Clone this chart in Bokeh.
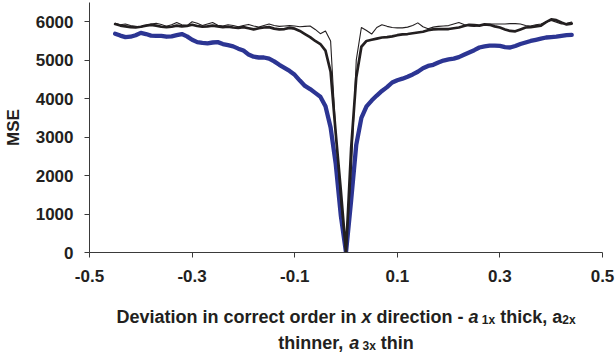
from bokeh.plotting import figure
from bokeh.models import FixedTicker, Range1d
from bokeh.layouts import column
from bokeh.core.properties import value
from bokeh.embed import file_html
from bokeh.resources import INLINE

# ---------------- data ----------------
x_dev = [-0.45, -0.44, -0.43, -0.42, -0.41, -0.40, -0.39, -0.38, -0.37, -0.36,
         -0.35, -0.34, -0.33, -0.32, -0.31, -0.30, -0.29, -0.28, -0.27, -0.26,
         -0.25, -0.24, -0.23, -0.22, -0.21, -0.20, -0.19, -0.18, -0.17, -0.16,
         -0.15, -0.14, -0.13, -0.12, -0.11, -0.10, -0.09, -0.08, -0.07, -0.06,
         -0.05, -0.04, -0.03, -0.02, -0.01, 0.00, 0.01, 0.02, 0.03, 0.04,
         0.05, 0.06, 0.07, 0.08, 0.09, 0.10, 0.11, 0.12, 0.13, 0.14,
         0.15, 0.16, 0.17, 0.18, 0.19, 0.20, 0.21, 0.22, 0.23, 0.24,
         0.25, 0.26, 0.27, 0.28, 0.29, 0.30, 0.31, 0.32, 0.33, 0.34,
         0.35, 0.36, 0.37, 0.38, 0.39, 0.40, 0.41, 0.42, 0.43, 0.44]

mse_a1x = [5690, 5640, 5600, 5610, 5650, 5710, 5680, 5640, 5630, 5630,
           5610, 5620, 5650, 5680, 5620, 5530, 5470, 5450, 5440, 5460,
           5470, 5420, 5390, 5360, 5300, 5250, 5150, 5090, 5070, 5070,
           5040, 4970, 4880, 4800, 4720, 4620, 4470, 4330, 4250, 4150,
           4050, 3800, 3250, 2300, 950, 0, 1350, 2800, 3500, 3800,
           3950, 4080, 4200, 4300, 4420, 4480, 4520, 4570, 4630, 4700,
           4790, 4850, 4880, 4940, 4990, 5020, 5040, 5080, 5140, 5200,
           5260, 5330, 5360, 5380, 5380, 5370, 5340, 5330, 5370, 5420,
           5460, 5500, 5530, 5560, 5590, 5600, 5610, 5630, 5650, 5660]

mse_a2x = [5940, 5900, 5880, 5860, 5850, 5870, 5900, 5920, 5900, 5870,
           5860, 5870, 5900, 5880, 5890, 5920, 5890, 5870, 5880, 5900,
           5880, 5860, 5870, 5850, 5840, 5860, 5830, 5800, 5830, 5850,
           5860, 5820, 5800, 5810, 5840, 5820, 5760, 5680, 5600, 5500,
           5420, 5250, 4700, 3100, 1600, 0, 2700, 4550, 5350, 5500,
           5530, 5560, 5590, 5600, 5620, 5650, 5670, 5680, 5700, 5720,
           5740, 5780, 5800, 5810, 5810, 5810, 5830, 5850, 5890, 5920,
           5910, 5900, 5930, 5920, 5880, 5850, 5800, 5760, 5750, 5800,
           5850, 5860, 5880, 5900, 5990, 6060, 6040, 5980, 5930, 5950]

mse_a3x = [5960, 5920, 5940, 5900, 5880, 5860, 5900, 5940, 5960, 5930,
           5880, 5920, 5980, 5920, 5900, 6000, 5960, 5900, 5940, 5980,
           5910, 5890, 5920, 5900, 5870, 5900, 5930, 5890, 5860, 5900,
           5940, 5900, 5880, 5890, 5900, 5890, 5870, 5880, 5890, 5800,
           5690, 5760, 5500, 3100, 1250, 0, 2000, 5000, 5850, 5770,
           5680, 5850, 5920, 5880, 5850, 5840, 5840, 5860, 5900, 5970,
           5870, 5820, 5860, 5880, 5890, 5900, 5940, 5980, 5930, 5890,
           5880, 5900, 5930, 5940, 5940, 5940, 5940, 5950, 5950, 5940,
           5900, 5890, 5920, 5940, 5990, 6030, 5990, 5940, 5960, 5990]

x_ticks = [-0.5, -0.3, -0.1, 0.1, 0.3, 0.5]
y_ticks = [0, 1000, 2000, 3000, 4000, 5000, 6000]

# ---------------- layout constants ----------------
W = 616
H_MAIN, H_TITLE = 290, 62
BL, BR, BT = 89, 14, 2
FRAME_BOTTOM = 252
FW = W - BL - BR
Y_MAX = 6500

INK = "#231f20"
AXIS = "#3a3a3a"
BLUE = "#2c3593"
FONT = "Liberation Sans"

# ---------------- main chart ----------------
p = figure(width=W, height=H_MAIN, output_backend="svg", toolbar_location=None,
           x_range=Range1d(-0.5, 0.5), y_range=Range1d(0, Y_MAX),
           min_border_left=BL, min_border_right=BR,
           min_border_top=BT, min_border_bottom=H_MAIN - FRAME_BOTTOM)
p.outline_line_color = None
p.grid.visible = False

p.line(x_dev, mse_a1x, line_color=BLUE, line_width=4.3, line_join="round", line_cap="round")
p.line(x_dev, mse_a2x, line_color=INK, line_width=2.7, line_join="round", line_cap="round")
p.line(x_dev, mse_a3x, line_color=INK, line_width=1.1, line_join="round", line_cap="round")

for ax in (p.xaxis[0], p.yaxis[0]):
    ax.axis_line_color = AXIS
    ax.axis_line_width = 1
    ax.major_tick_line_color = AXIS
    ax.major_tick_in = 0
    ax.major_tick_out = 5
    ax.minor_tick_line_color = None
    ax.major_label_text_font = FONT
    ax.major_label_text_font_style = "bold"
    ax.major_label_text_font_size = "17px"
    ax.major_label_text_color = INK

p.xaxis.ticker = FixedTicker(ticks=x_ticks)
p.xaxis.major_label_overrides = {t: ("%.1f" % t) for t in x_ticks}
p.xaxis.major_label_standoff = 12
p.yaxis.ticker = FixedTicker(ticks=y_ticks)
p.yaxis.major_label_standoff = 11
p.yaxis.axis_label = "MSE"
p.yaxis.axis_label_text_font = FONT
p.yaxis.axis_label_text_font_style = "bold"
p.yaxis.axis_label_text_font_size = "17px"
p.yaxis.axis_label_text_color = INK
p.yaxis.axis_label_standoff = 10

# ---------------- x-axis title (italics + subscripts) ----------------
t = figure(width=W, height=H_TITLE, output_backend="svg", toolbar_location=None,
           x_range=Range1d(-0.5, 0.5), y_range=Range1d(0, H_TITLE),
           min_border_left=BL, min_border_right=BR, min_border_top=0, min_border_bottom=0)
t.axis.visible = False
t.grid.visible = False
t.outline_line_color = None

ARIAL_BOLD = {" ": 278, "a": 556, "c": 556, "d": 611, "e": 556, "h": 611, "i": 278,
              "k": 556, "n": 611, "o": 611, "r": 389, "s": 556, "t": 333, "v": 556,
              "x": 556, "D": 722, ",": 278, "-": 333, "1": 556, "2": 556, "3": 556}

def text_w(s, size):
    return sum(ARIAL_BOLD.get(ch, 556) for ch in s) * size / 1000.0

MAIN, SUB = 18, 12
line1 = [("Deviation in correct order in ", "bold", MAIN, 0),
         ("x", "bold italic", MAIN, 0),
         (" direction - ", "bold", MAIN, 0),
         ("a", "bold italic", MAIN, 0),
         (" 1x", "bold", SUB, 3),
         (" thick, a", "bold", MAIN, 0),
         ("2x", "bold", SUB, 3)]
line2 = [("thinner, ", "bold", MAIN, 0),
         ("a", "bold italic", MAIN, 0),
         (" 3x", "bold", SUB, 3),
         (" thin", "bold", MAIN, 0)]

def place(pieces, baseline_page_y):
    total = sum(text_w(s, sz) for s, _, sz, _ in pieces)
    cur = -total / 2.0
    for s, style, sz, dy in pieces:
        body = s.lstrip(" ")
        lead = text_w(s[:len(s) - len(body)], sz)
        body = body.rstrip(" ")
        t.text(x=[(cur + lead) / FW], y=[H_MAIN + H_TITLE - (baseline_page_y + dy)],
               text=[body], text_font=value(FONT), text_font_style=style,
               text_font_size="%dpx" % sz, text_color=INK,
               text_align="left", text_baseline="alphabetic")
        cur += text_w(s, sz)

place(line1, 316)
place(line2, 342)

layout = column(p, t, spacing=0)
open("out.html", "w").write(file_html(layout, INLINE))
